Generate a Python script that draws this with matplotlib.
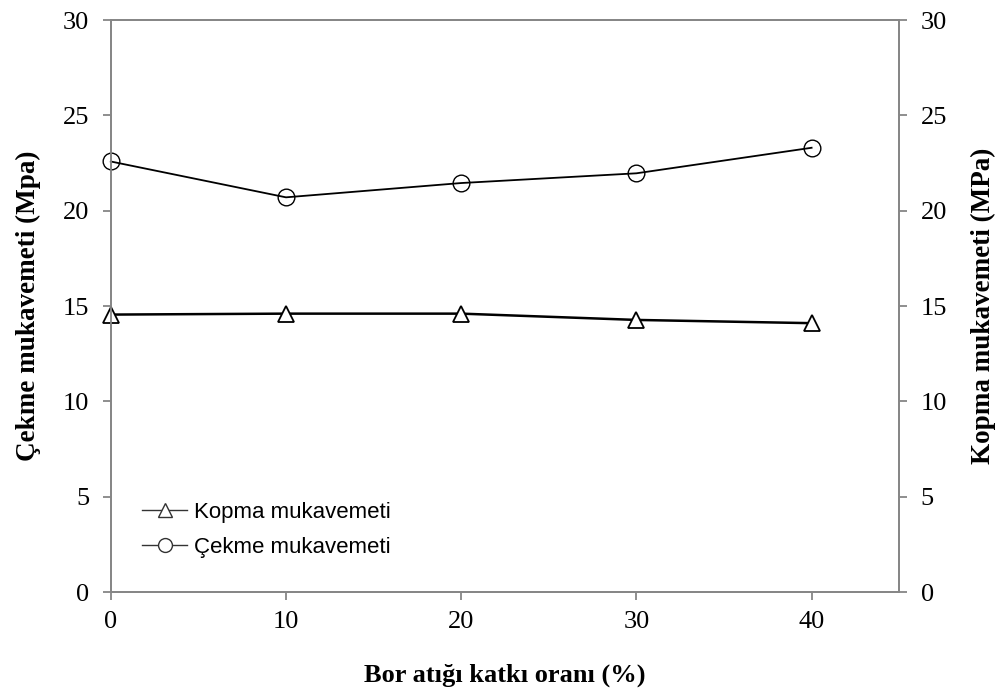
import matplotlib
matplotlib.use("Agg")
import matplotlib.pyplot as plt
from matplotlib.lines import Line2D

# data
katki = [0, 10, 20, 30, 40]
kopma = [14.55, 14.6, 14.6, 14.27, 14.1]
cekme = [22.58, 20.7, 21.45, 21.96, 23.3]

xticks = [0, 10, 20, 30, 40]
yticks = [0, 5, 10, 15, 20, 25, 30]

gray = "#868686"
serif = ["Liberation Serif", "DejaVu Serif"]

fig = plt.figure(figsize=(9.98, 6.95), dpi=100)
ax = fig.add_axes([0.111, 0.1482, 0.790, 0.823])
ax2 = ax.twinx()

ax.plot(katki, kopma, color="black", lw=1.8, marker="^", ms=12,
        mfc="white", mec="black", mew=1.3, clip_on=False, zorder=3)
ax.plot(katki, cekme, color="black", lw=1.3, marker="o", ms=12,
        mfc="none", mec="black", mew=1.0, clip_on=False, zorder=3)

for a in (ax, ax2):
    a.set_xlim(0, 45)
    a.set_ylim(0, 30)
    a.set_yticks(yticks)
    for s in ("left", "right", "bottom", "top"):
        a.spines[s].set_color(gray)
        a.spines[s].set_linewidth(1.3)
    a.tick_params(colors=gray, width=1.3, length=5.5, labelcolor="black",
                  labelsize=19, direction="out")
    for lab in a.get_yticklabels():
        lab.set_fontfamily(serif)

ax.set_xticks(xticks)
for lab in ax.get_xticklabels():
    lab.set_fontfamily(serif)
ax.tick_params(axis="x", pad=8)
ax.tick_params(axis="y", pad=10)
ax2.tick_params(axis="y", pad=10)

ax.set_xlabel("Bor atığı katkı oranı (%)", fontfamily=serif, fontsize=19,
              fontweight="bold", labelpad=22)
ax.set_ylabel("Çekme mukavemeti (Mpa)", fontfamily=serif, fontsize=19.5,
              fontweight="bold", labelpad=16)
ax2.set_ylabel("Kopma mukavemeti (MPa)", fontfamily=serif, fontsize=19.5,
               fontweight="bold", labelpad=17)

handles = [
    Line2D([], [], color="#333333", lw=1.0, marker="^", ms=10, mfc="white",
           mec="#333333", mew=1.0),
    Line2D([], [], color="#333333", lw=1.0, marker="o", ms=10, mfc="white",
           mec="#333333", mew=1.0),
]
ax.legend(handles, ["Kopma mukavemeti", "Çekme mukavemeti"],
          loc="upper left", bbox_to_anchor=(0.04, 0.157), frameon=False,
          borderpad=0, borderaxespad=0,
          prop={"family": ["Liberation Sans", "DejaVu Sans"], "size": 16},
          handlelength=2.0, handletextpad=0.32, labelspacing=0.62)

fig.savefig("out.png", dpi=100)
